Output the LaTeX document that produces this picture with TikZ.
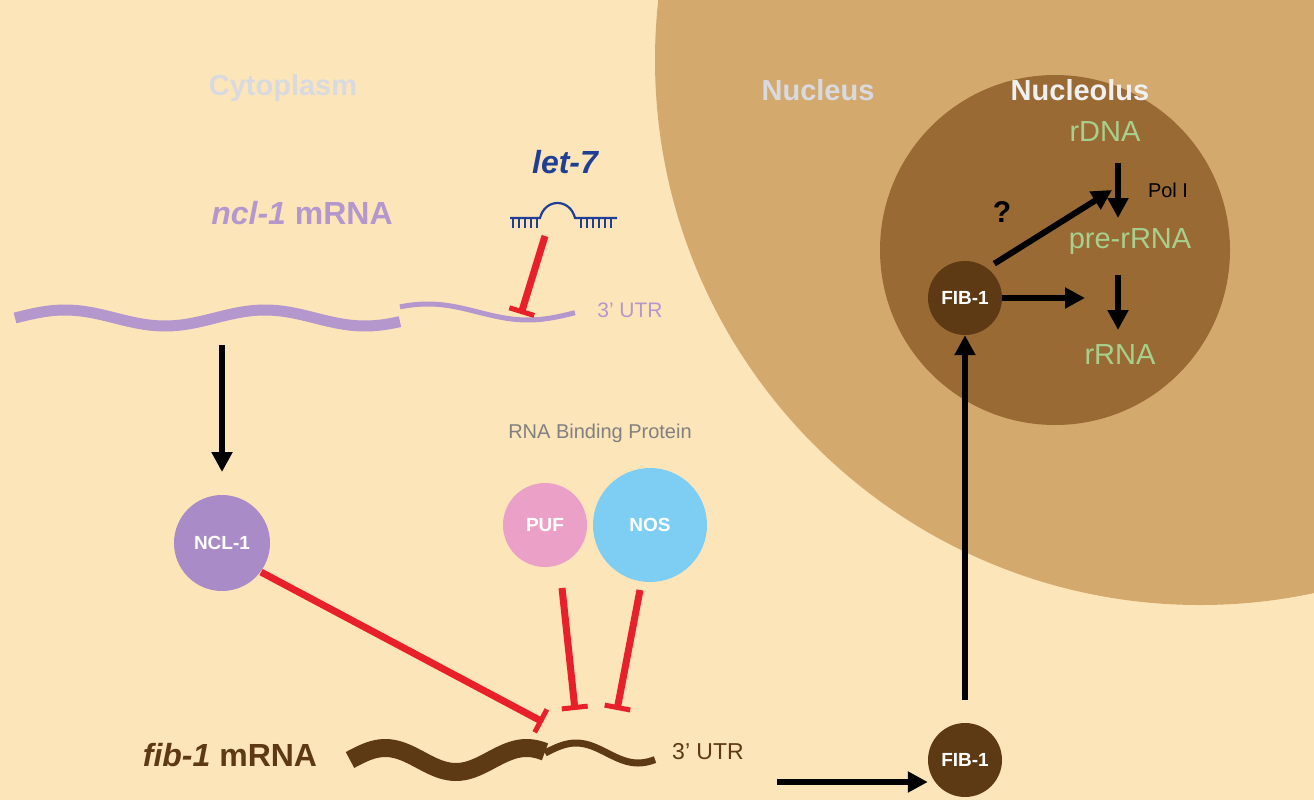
\documentclass[tikz,border=0pt]{standalone}
\usepackage{fontspec}
\setmainfont{Liberation Sans}
\setsansfont{Liberation Sans}
\usetikzlibrary{arrows.meta}
\definecolor{bg}{HTML}{FDE5BA}
\definecolor{nuc}{HTML}{D4A96E}
\definecolor{nucl}{HTML}{9A6A35}
\definecolor{fib}{HTML}{5E3A14}
\definecolor{grn}{HTML}{A8D08D}
\definecolor{pur}{HTML}{B497CD}
\definecolor{ncl}{HTML}{A98BC8}
\definecolor{puf}{HTML}{EBA0C8}
\definecolor{nos}{HTML}{7ECEF4}
\definecolor{lblue}{HTML}{1F3F94}
\definecolor{inh}{HTML}{E8202A}
\definecolor{lab}{HTML}{D8DAE0}
\begin{document}
\begin{tikzpicture}[x=1pt,y=-1pt,
  fs/.style={font=\fontsize{#1}{#1}\selectfont},
  bfs/.style={font=\bfseries\fontsize{#1}{#1}\selectfont},
  prot/.style={circle,inner sep=0pt,text=white,font=\bfseries\fontsize{19}{19}\selectfont},
  act/.style={-{Triangle[length=20pt,width=20pt]},line width=6pt,black},
  inhib/.style={-{Bar[width=26pt,line width=5pt]},line width=7pt,inh}]
\useasboundingbox (0,0) rectangle (1314,800);
\fill[bg] (0,0) rectangle (1314,800);
\begin{scope}
\clip (0,0) rectangle (1314,800);
\fill[nuc] (1200,60) circle (545);
\end{scope}
\fill[nucl] (1055,250) circle (175);
% labels
\node[bfs=29,text=lab] (cyt) at (283,88) {Cytoplasm};
\node[bfs=29,text=lab] (nu) at (818,90) {Nucleus};
\node[bfs=29,text=white!88!gray] (nl) at (1080,90) {Nucleolus};
\node[fs=29,text=grn] (rdna) at (1105,132) {rDNA};
\node[fs=29,text=grn] (pre) at (1130,242) {pre-rRNA};
\node[fs=29,text=grn] (rrna) at (1120,355) {rRNA};
\node[fs=20] (pol) at (1168,190) {Pol \textrm{I}};
\node[prot,fill=fib,minimum size=74pt] (fibn) at (965,298) {FIB-1};
\node[prot,fill=fib,minimum size=74pt] (fibc) at (965,760) {FIB-1};
\coordinate (d1a) at (1118,163); \coordinate (d1b) at (1118,218);
\coordinate (d2a) at (1118,275); \coordinate (d2b) at (1118,330);
\draw[act] (d1a) -- (d1b);
\draw[act] (d2a) -- (d2b);
\coordinate (fa) at (1085,298);
\draw[act] (fibn.east) -- (fa);
\coordinate (qa) at (1112,190);
\draw[act] (fibn.north east) ++(3,-8) coordinate (qs) -- (qa);
\node[bfs=30] (q) at (1002,212) {?};
\draw[act] (fibc.north) ++(0,-23) coordinate (ups) -- (fibn.south);
\node[fs=23,text=fib] (utr2) at (708,752) {3' UTR};
\draw[act] (utr2.east) ++(30,30) coordinate (hs) -- (fibc.west |- hs);
% ncl-1 mRNA
\node[fs=32,text=pur] (nclm) at (302,213) {\bfseries\itshape ncl-1\upshape\ mRNA};
\draw[pur,line width=11pt] plot[domain=15:400,samples=60,smooth] (\x,{318-8*sin(1.8*(\x-15))});
\draw[pur,line width=5pt] plot[domain=400:575,samples=40,smooth] (\x,{312-8*sin(1.8*(\x-400)+40)});
\node[fs=21,text=pur] (utr1) at (630,310) {3' UTR};
% let-7
\node[bfs=32,text=lblue] (let) at (565,162) {\itshape let-7};
\begin{scope}[lblue,line width=2.2pt]
\draw (510,218) -- (540,218) .. controls (545,198) and (570,198) .. (575,218) -- (617,218);
\foreach \t in {513,519,525,531,537,581,587,593,599,605,611} \draw (\t,218) -- (\t,228);
\end{scope}
\coordinate (l1) at (545,236); \coordinate (l2) at (521,314);
\draw[inhib] (l1) -- (l2);
\draw[act] (222,345) -- (222,472);
\node[prot,fill=ncl,minimum size=96pt] (ncl) at (222,543) {NCL-1};
\node[fs=20,text=gray] (rbp) at (600,433) {RNA Binding Protein};
\node[prot,fill=puf,minimum size=84pt] (puf) at (545,525) {PUF};
\node[prot,fill=nos,minimum size=114pt] (nos) at (650,525) {NOS};
% fib-1 mRNA
\node[fs=32,text=fib] (fibm) at (230,755) {\bfseries\itshape fib-1\upshape\ mRNA};
\draw[fib,line width=18pt] plot[domain=350:545,samples=60,smooth] (\x,{760-12*sin(2.55*(\x-350))});
\draw[fib,line width=7pt] plot[domain=545:655,samples=40,smooth] (\x,{753-10*sin(2.9*(\x-545))});
\coordinate (t1) at (543,722); \coordinate (t2) at (575,710); \coordinate (t3) at (617,710);
\draw[inhib] (ncl.south east) ++(5,-5) -- (t1);
\draw[inhib] (562,588) -- (t2);
\draw[inhib] (640,590) -- (t3);
\end{tikzpicture}
\end{document}
